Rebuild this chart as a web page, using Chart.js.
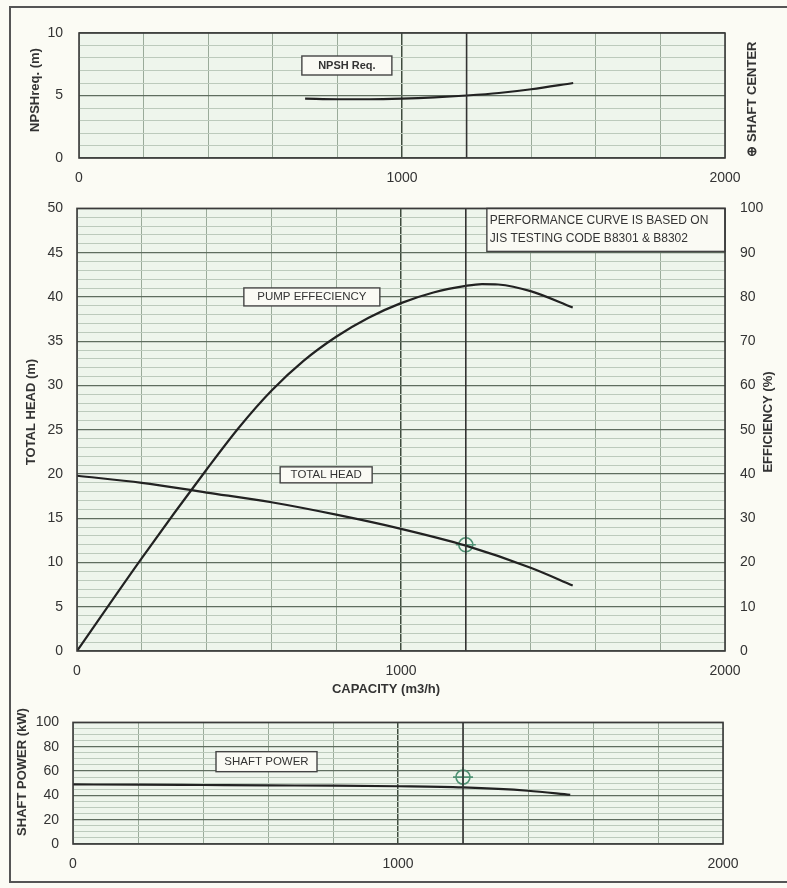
<!DOCTYPE html>
<html>
<head>
<meta charset="utf-8">
<title>Pump performance curve</title>
<script src="https://cdn.jsdelivr.net/npm/chart.js@4.4.1/dist/chart.umd.min.js"></script>
<style>
  html, body { margin: 0; padding: 0; background: #fbfbf4; overflow: hidden; }
  #sheet { position: relative; width: 787px; height: 888px; }
  #frame {
    position: absolute; left: 9px; top: 6px; width: 790px; height: 877px;
    border: 2px solid #555; box-sizing: border-box;
  }
  canvas { position: absolute; left: 0; }
</style>
</head>
<body>
<div id="sheet">
  <div id="frame"></div>
  <canvas id="npshChart" width="787" height="185" style="top:0px"></canvas>
  <canvas id="headChart" width="787" height="515" style="top:185px"></canvas>
  <canvas id="powerChart" width="787" height="188" style="top:700px"></canvas>
</div>
<script>
// capacity (m3/h) sample points
const capacity = [0, 200, 400, 600, 800, 1000, 1200, 1400, 1530];
const totalHead = [19.8, 19.0, 17.9, 16.8, 15.4, 13.8, 11.9, 9.4, 7.4];
const shaftPower = [49, 48.8, 48.5, 48.2, 48, 47.5, 46.5, 43.8, 40.5];

const effCapacity = [0, 200, 400, 500, 600, 700, 800, 900, 1000, 1100, 1200, 1250, 1300, 1400, 1530];
const efficiency = [0, 21, 41, 50.5, 58.8, 65.6, 71, 75.3, 78.6, 81, 82.5, 82.9, 82.8, 81.3, 77.6];

const npshCapacity = [700, 800, 900, 1000, 1100, 1200, 1300, 1400, 1530];
const npshReq = [4.75, 4.7, 4.7, 4.75, 4.85, 5.0, 5.2, 5.5, 6.0];

// duty point
const dutyCapacity = 1200;
const dutyHead = 12;
const dutyPower = 55;

// axis ranges / tick labels
const capacityRange = [0, 2000];
const capacityLabels = [0, 1000, 2000];
const npshRange = [0, 10];
const headRange = [0, 50];
const effRange = [0, 100];
const powerRange = [0, 100];

const FONT = "'Liberation Sans', Arial, sans-serif";
const INK = "#333";
const CURVE = "#222";
const MARK = "#4f9274";

const toXY = (xs, ys) => xs.map((x, i) => ({ x: x, y: ys[i] }));

// background, frame, label boxes and side titles
const sheetPlugin = {
  id: "sheet",
  beforeDraw(chart) {
    const { ctx, chartArea: a } = chart;
    ctx.save();
    ctx.fillStyle = "#eef5ec";
    ctx.fillRect(a.left, a.top, a.right - a.left, a.bottom - a.top);
    ctx.restore();
  },
  afterDraw(chart, args, opts) {
    const { ctx, chartArea: a, scales } = chart;
    ctx.save();
    // label boxes
    (opts.boxes || []).forEach((b) => {
      const sx = scales.x, sy = scales[b.axis || "y"];
      const left = sx.getPixelForValue(b.x);
      const right = b.x2 !== undefined ? sx.getPixelForValue(b.x2) : left + b.w;
      let top, h;
      if (b.yTop !== undefined) {
        top = sy.getPixelForValue(b.yTop);
        h = b.h;
      } else {
        h = b.h;
        top = sy.getPixelForValue(b.y) - h / 2;
      }
      ctx.fillStyle = "#fafaf4";
      ctx.fillRect(left, top, right - left, h);
      ctx.strokeStyle = "#444";
      ctx.lineWidth = 1.4;
      ctx.strokeRect(left, top, right - left, h);
      ctx.fillStyle = INK;
      ctx.font = b.font || "12px " + FONT;
      ctx.textBaseline = "middle";
      ctx.textAlign = b.align || "center";
      const lines = [].concat(b.text);
      const lh = b.lineHeight || 14;
      lines.forEach((t, i) => {
        const ty = top + h / 2 + (i - (lines.length - 1) / 2) * lh;
        const tx = b.align === "left" ? left + 3 : (left + right) / 2;
        ctx.fillText(t, tx, ty);
      });
    });
    // plot frame
    ctx.strokeStyle = "#3a3a3a";
    ctx.lineWidth = 1.6;
    ctx.strokeRect(a.left, a.top, a.right - a.left, a.bottom - a.top);
    // titles
    (opts.titles || []).forEach((t) => {
      ctx.save();
      ctx.translate(t.x, t.y);
      ctx.rotate(t.rotate ? -Math.PI / 2 : 0);
      ctx.font = t.font || "bold 13px " + FONT;
      ctx.fillStyle = INK;
      ctx.textAlign = "center";
      ctx.textBaseline = "middle";
      ctx.fillText(t.text, 0, 0);
      ctx.restore();
    });
    ctx.restore();
  },
};

function xScale(height) {
  return {
    type: "linear",
    min: capacityRange[0],
    max: capacityRange[1],
    ticks: {
      stepSize: 200,
      autoSkip: false,
      maxRotation: 0,
      padding: 12,
      color: INK,
      font: { family: FONT, size: 14 },
      callback: (v) => (capacityLabels.includes(v) ? v : ""),
    },
    grid: {
      drawTicks: false,
      color: (c) => (c.tick && c.tick.value === 1000 ? "#3f4c3f" : "#9aab9a"),
      lineWidth: (c) => (c.tick && c.tick.value === 1000 ? 1.5 : 1),
    },
    border: { display: false },
    afterFit: (s) => { s.height = height; },
  };
}

function yScale(range, step, labelEvery, majorEvery, width, padding) {
  return {
    type: "linear",
    position: "left",
    min: range[0],
    max: range[1],
    ticks: {
      stepSize: step,
      autoSkip: false,
      padding: padding,
      color: INK,
      font: { family: FONT, size: 14 },
      callback: (v) => (v % labelEvery === 0 ? v : ""),
    },
    grid: {
      drawTicks: false,
      color: (c) => (c.tick && c.tick.value % majorEvery === 0 ? "#5f6d5f" : "#bccabc"),
      lineWidth: (c) => (c.tick && c.tick.value % majorEvery === 0 ? 1.2 : 1),
    },
    border: { display: false },
    afterFit: (s) => { s.width = width; },
  };
}

function curve(data, yAxisID) {
  return {
    data: data,
    yAxisID: yAxisID || "y",
    borderColor: CURVE,
    borderWidth: 2.2,
    pointRadius: 0,
    fill: false,
    cubicInterpolationMode: "monotone",
  };
}

function dutyLine(range) {
  return {
    data: toXY([dutyCapacity, dutyCapacity], range),
    borderColor: "#333",
    borderWidth: 1.6,
    pointRadius: 0,
    fill: false,
  };
}

function dutyMarker(value, style, radius) {
  return {
    data: [{ x: dutyCapacity, y: value }],
    showLine: false,
    pointStyle: style,
    pointRadius: radius,
    pointBorderColor: MARK,
    pointBackgroundColor: "rgba(0,0,0,0)",
    pointBorderWidth: 1.6,
  };
}

const baseOptions = {
  responsive: false,
  animation: false,
  events: [],
  plugins: { legend: { display: false }, tooltip: { enabled: false } },
};

// NPSH required
new Chart(document.getElementById("npshChart"), {
  type: "line",
  data: {
    datasets: [
      dutyLine(npshRange),
      curve(toXY(npshCapacity, npshReq)),
    ],
  },
  options: {
    ...baseOptions,
    layout: { padding: { top: 33, right: 62, left: 0, bottom: 0 } },
    scales: {
      x: xScale(27),
      y: yScale(npshRange, 1, 5, 5, 79, 16),
    },
    plugins: {
      ...baseOptions.plugins,
      sheet: {
        boxes: [{ x: 690, y: 7.4, w: 90, h: 19, text: "NPSH Req.", font: "bold 11px " + FONT }],
        titles: [
          { text: "NPSHreq. (m)", x: 35, y: 90, rotate: true },
          { text: "\u2295 SHAFT CENTER", x: 752, y: 99, rotate: true },
        ],
      },
    },
  },
  plugins: [sheetPlugin],
});

// Total head + pump efficiency
const effAxis = {
  type: "linear",
  position: "right",
  min: effRange[0],
  max: effRange[1],
  ticks: {
    stepSize: 10,
    padding: 15,
    color: INK,
    font: { family: FONT, size: 14 },
  },
  grid: { display: false, drawTicks: false },
  border: { display: false },
  afterFit: (s) => { s.width = 62; },
};

new Chart(document.getElementById("headChart"), {
  type: "line",
  data: {
    datasets: [
      dutyLine(headRange),
      curve(toXY(capacity, totalHead)),
      curve(toXY(effCapacity, efficiency), "y2"),
      dutyMarker(dutyHead, "circle", 7),
      dutyMarker(dutyHead, "cross", 10),
    ],
  },
  options: {
    ...baseOptions,
    layout: { padding: { top: 10, right: 0, left: 0, bottom: 0 } },
    scales: {
      x: xScale(49),
      y: yScale(headRange, 1, 5, 5, 77, 14),
      y2: effAxis,
    },
    plugins: {
      ...baseOptions.plugins,
      sheet: {
        boxes: [
          { x: 515, y: 40, w: 136, h: 18, text: "PUMP EFFECIENCY", font: "11.5px " + FONT },
          { x: 627, y: 19.9, w: 92, h: 16, text: "TOTAL HEAD", font: "11.5px " + FONT },
          {
            x: 1265, x2: 2000, yTop: 50, h: 43, align: "left", lineHeight: 18,
            text: ["PERFORMANCE CURVE IS BASED ON", "JIS TESTING CODE B8301 & B8302"],
            font: "12px " + FONT,
          },
        ],
        titles: [
          { text: "TOTAL HEAD (m)", x: 31, y: 227, rotate: true },
          { text: "EFFICIENCY (%)", x: 768, y: 237, rotate: true },
          { text: "CAPACITY (m3/h)", x: 386, y: 504, font: "bold 13px " + FONT },
        ],
      },
    },
  },
  plugins: [sheetPlugin],
});

// Shaft power
new Chart(document.getElementById("powerChart"), {
  type: "line",
  data: {
    datasets: [
      dutyLine(powerRange),
      curve(toXY(capacity, shaftPower)),
      dutyMarker(dutyPower, "circle", 7),
      dutyMarker(dutyPower, "cross", 10),
    ],
  },
  options: {
    ...baseOptions,
    layout: { padding: { top: 11, right: 64, left: 0, bottom: 0 } },
    scales: {
      x: xScale(44),
      y: yScale(powerRange, 5, 20, 20, 73, 14),
    },
    plugins: {
      ...baseOptions.plugins,
      sheet: {
        boxes: [{ x: 440, y: 67.7, w: 101, h: 20, text: "SHAFT POWER", font: "11.5px " + FONT }],
        titles: [
          { text: "SHAFT POWER (kW)", x: 22, y: 72, rotate: true },
        ],
      },
    },
  },
  plugins: [sheetPlugin],
});
</script>
</body>
</html>
